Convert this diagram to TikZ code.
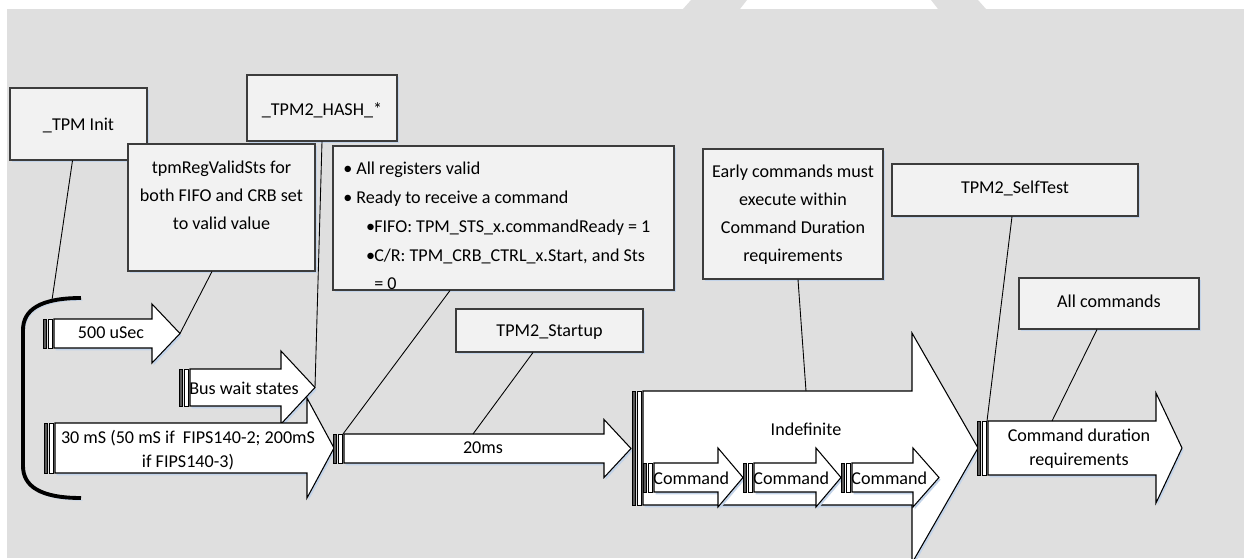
\documentclass[tikz,border=0pt]{standalone}
\usepackage{fontspec}
\setmainfont{Carlito}
\usepackage{tikz}
\usetikzlibrary{calc, fit}
\definecolor{canvas}{HTML}{DFDFDF}
\definecolor{boxfill}{HTML}{F2F2F2}
\definecolor{boxline}{HTML}{3C3C3C}
\definecolor{bardark}{HTML}{595959}
\definecolor{shade}{HTML}{C2D3E9}

% time arrow: name, tail x, head x, tip x, mid y, half body, half head
\newcommand{\timearrow}[7]{%
  \draw[arrbody] (#2+11,#5-#6) -- (#3,#5-#6) -- (#3,#5-#7) -- (#4,#5)
    -- (#3,#5+#7) -- (#3,#5+#6) -- (#2+11,#5+#6) -- cycle;
  \draw[tailbar, fill=bardark] (#2,#5-#6) rectangle (#2+3.5,#5+#6);
  \draw[tailbar, fill=white] (#2+5,#5-#6) rectangle (#2+9.5,#5+#6);
  \coordinate (#1-tail) at (#2+10,#5-#6);
  \coordinate (#1-tip) at (#4,#5);
}

\begin{document}
\begin{tikzpicture}[
  x=0.02cm, y=-0.02cm,
  box/.style={draw=boxline, line width=0.6pt, fill=boxfill, inner sep=0pt,
              preaction={fill=shade, transform canvas={shift={(0.9pt,-1.3pt)}}}},
  txt/.style={inner sep=0pt, align=center, font=\fontsize{10.3pt}{15.9pt}\selectfont},
  atxt/.style={inner sep=0pt, align=center, font=\fontsize{10.3pt}{13.6pt}\selectfont},
  arrbody/.style={draw=black, line width=0.6pt, fill=white,
                  preaction={fill=shade, transform canvas={shift={(0.9pt,-1.3pt)}}}},
  tailbar/.style={draw=black, line width=0.5pt},
  link/.style={draw=black, line width=0.5pt},
  brace/.style={draw=black, line width=2.2pt,
                preaction={draw=shade, transform canvas={shift={(0.9pt,-1.3pt)}}}}
]
\useasboundingbox (0,0) rectangle (1244,558);
\clip (0,0) rectangle (1244,558);

% Background
\fill[canvas] (7,9) rectangle (1244,558);
\fill[canvas] (683,9) -- (691,0) -- (747,0) -- (740,9) -- cycle;
\fill[canvas] (938,9) -- (931,0) -- (978,0) -- (986,9) -- cycle;

% Boxes
\node[box, fit={(10,88) (147,160)}] (initbox) {};
\node[txt] (inittxt) at (78.5,125) {\_TPM Init};
\node[box, fit={(128,144) (315,271)}] (regbox) {};
\node[txt] (regtxt) at (221.5,195) {tpmRegValidSts for\\both FIFO and CRB set\\to valid value};
\node[box, fit={(247,75) (397,141)}] (hashbox) {};
\node[txt] (hashtxt) at (322,110) {\_TPM2\_HASH\_*};
\node[box, fit={(333,146) (674,290)}] (bulletbox) {};
\node[inner sep=0pt, align=left, anchor=west, font=\fontsize{10.3pt}{16.4pt}\selectfont] (bullettxt) at (343,226)
  {\makebox[7.4pt][l]{•}All registers valid\\
   \makebox[7.4pt][l]{•}Ready to receive a command\\
   \makebox[17.6pt][l]{\hspace{13pt}•}FIFO: TPM\_STS\_x.commandReady = 1\\
   \makebox[17.6pt][l]{\hspace{13pt}•}C/R: TPM\_CRB\_CTRL\_x.Start, and Sts\\
   \makebox[17.6pt][l]{}= 0};
\node[box, fit={(456,309) (643,352)}] (startupbox) {};
\node[txt] (startuptxt) at (549.5,332) {TPM2\_Startup};
\node[box, fit={(703,149) (883,279)}] (earlybox) {};
\node[txt] (earlytxt) at (793,214.5) {Early commands must\\execute within\\Command Duration\\requirements};
\node[box, fit={(892,164) (1138,216)}] (selftestbox) {};
\node[txt] (selftesttxt) at (1015,188) {TPM2\_SelfTest};
\node[box, fit={(1019,278) (1199,329)}] (allbox) {};
\node[txt] (alltxt) at (1109,301) {All commands};

% Bracket
\draw[brace] (81,298) .. controls (40,298) and (23,310) .. (23,330) -- (23,466)
  .. controls (23,486) and (40,498) .. (81,498);
\coordinate (bracetop) at (52,300);

% Time arrows
\timearrow{usec}{43}{152}{180}{333.5}{14.5}{29.5}
\timearrow{bus}{179}{281}{315}{387.5}{18.5}{36.5}
\timearrow{ms30}{44}{307}{334}{448}{25}{50}
\timearrow{ms20}{333}{604}{631}{448.5}{14.5}{29}
\timearrow{indef}{632}{912}{978}{448}{57}{115}
\timearrow{cmda}{643}{718}{743}{477.5}{14.5}{29.5}
\timearrow{cmdb}{743}{816}{841}{477.5}{14.5}{29.5}
\timearrow{cmdc}{841}{913}{939}{477.5}{14.5}{29.5}
\timearrow{dur}{977}{1156}{1182}{448}{27}{55}
\coordinate (ms20top) at (473,434);
\coordinate (indeftop) at (806,391);
\coordinate (durtop) at (1052,421);

% Arrow labels
\node[atxt] (usectxt) at (111,333) {500 uSec};
\node[atxt, anchor=west] (bustxt) at (189,388) {Bus wait states};
\node[atxt] (ms30txt) at (188,450) {30 mS (50 mS if\ \ FIPS140-2; 200mS\\if FIPS140-3)};
\node[atxt] (ms20txt) at (483,448) {20ms};
\node[atxt] (indeftxt) at (806,429) {Indefinite};
\node[atxt, anchor=west] (cmdtxta) at (653,478) {Command};
\node[atxt, anchor=west] (cmdtxtb) at (753,478) {Command};
\node[atxt, anchor=west] (cmdtxtc) at (851,478) {Command};
\node[atxt] (durtxt) at (1079,449) {Command duration\\requirements};

% Connectors
\draw[link] ($(initbox.south)+(-6,0)$) -- (bracetop);
\draw[link] ($(regbox.south)+(-9.5,0)$) -- (usec-tip);
\draw[link] (hashbox.south) -- (bus-tip);
\draw[link] ($(bulletbox.south)+(-53.5,0)$) -- (ms20-tail);
\draw[link] ($(startupbox.south)+(-16.5,0)$) -- (ms20top);
\draw[link] ($(earlybox.south)+(5,0)$) -- (indeftop);
\draw[link] ($(selftestbox.south)+(-3,0)$) -- (dur-tail);
\draw[link] ($(allbox.south)+(-12,0)$) -- (durtop);

\end{tikzpicture}
\end{document}
